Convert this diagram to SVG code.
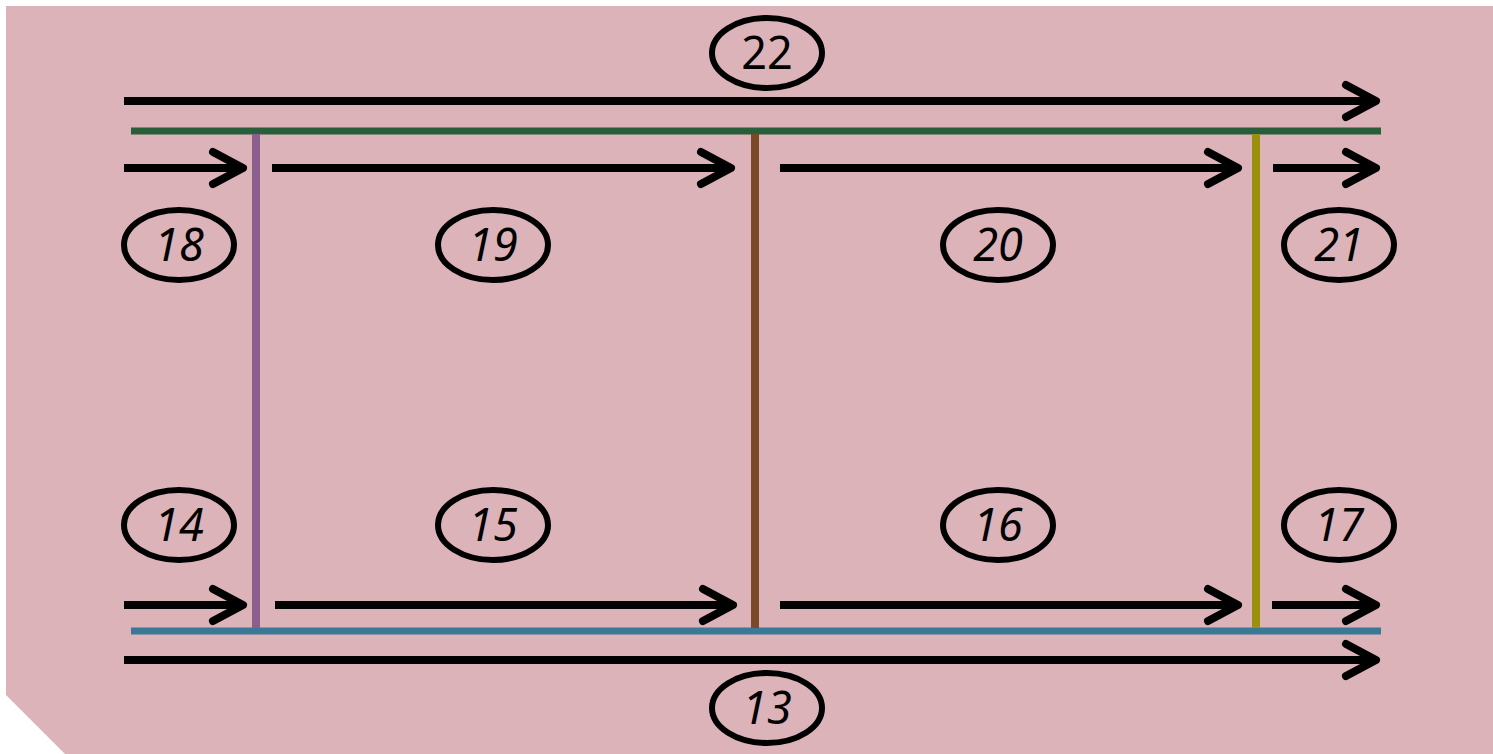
<svg xmlns="http://www.w3.org/2000/svg" width="1493" height="754" viewBox="0 0 1493 754">
  <style>
    .flow { stroke: #000; stroke-width: 8; fill: none; marker-end: url(#chev); }
    .bar { stroke-width: 7; fill: none; }
    .post { stroke-width: 8; fill: none; }
    .tag ellipse { fill: none; stroke: #000; stroke-width: 6; }
    .tag text { font-family: "Noto Sans", "Open Sans", sans-serif; font-size: 45px; font-style: italic; fill: #000; text-anchor: middle; }
  </style>
  <defs>
    <marker id="chev" markerUnits="userSpaceOnUse" viewBox="-40 -25 50 50" refX="0" refY="0" markerWidth="50" markerHeight="50" orient="auto" overflow="visible">
      <path d="M-30,-16 L0,0 L-30,16" fill="none" stroke="#000" stroke-width="8" stroke-linecap="round" stroke-linejoin="round"/>
    </marker>
  </defs>

  <!-- backdrop with clipped lower-left corner -->
  <polygon points="6,6 1493,6 1493,754 65,754 6,695" fill="#dbb3b8"/>

  <!-- rails and junction posts -->
  <g id="rails">
    <line class="bar" x1="131" y1="131" x2="1381" y2="131" stroke="#2a5e3b"/>
    <line class="bar" x1="131" y1="631" x2="1381" y2="631" stroke="#3a7898"/>
    <line class="post" x1="256" y1="134" x2="256" y2="628" stroke="#8b5f8b"/>
    <line class="post" x1="755" y1="134" x2="755" y2="628" stroke="#7a4a28"/>
    <line class="post" x1="1256" y1="134" x2="1256" y2="628" stroke="#9a900e"/>
  </g>

  <!-- flow arrows -->
  <g id="connectors">
    <line class="flow" x1="124" y1="101" x2="1376" y2="101"/>
    <line class="flow" x1="124" y1="168" x2="243" y2="168"/>
    <line class="flow" x1="272" y1="168" x2="731" y2="168"/>
    <line class="flow" x1="780" y1="168" x2="1238" y2="168"/>
    <line class="flow" x1="1273" y1="168" x2="1376" y2="168"/>
    <line class="flow" x1="124" y1="605" x2="243" y2="605"/>
    <line class="flow" x1="275" y1="605" x2="733" y2="605"/>
    <line class="flow" x1="780" y1="605" x2="1238" y2="605"/>
    <line class="flow" x1="1272" y1="605" x2="1376" y2="605"/>
    <line class="flow" x1="124" y1="660" x2="1376" y2="660"/>
  </g>

  <!-- numbered tags -->
  <g id="n22" class="tag"><ellipse cx="767" cy="53" rx="55" ry="35"/><text x="767" y="69" style="font-style:normal">22</text></g>
  <g id="n18" class="tag"><ellipse cx="179" cy="245" rx="55" ry="35"/><text x="179" y="261">18</text></g>
  <g id="n19" class="tag"><ellipse cx="493" cy="245" rx="55" ry="35"/><text x="493" y="261">19</text></g>
  <g id="n20" class="tag"><ellipse cx="998" cy="245" rx="55" ry="35"/><text x="998" y="261">20</text></g>
  <g id="n21" class="tag"><ellipse cx="1339" cy="245" rx="55" ry="35"/><text x="1339" y="261">21</text></g>
  <g id="n14" class="tag"><ellipse cx="179" cy="525" rx="55" ry="35"/><text x="179" y="541">14</text></g>
  <g id="n15" class="tag"><ellipse cx="493" cy="525" rx="55" ry="35"/><text x="493" y="541">15</text></g>
  <g id="n16" class="tag"><ellipse cx="998" cy="525" rx="55" ry="35"/><text x="998" y="541">16</text></g>
  <g id="n17" class="tag"><ellipse cx="1339" cy="525" rx="55" ry="35"/><text x="1339" y="541">17</text></g>
  <g id="n13" class="tag"><ellipse cx="767" cy="708" rx="55" ry="35"/><text x="767" y="724">13</text></g>
</svg>
